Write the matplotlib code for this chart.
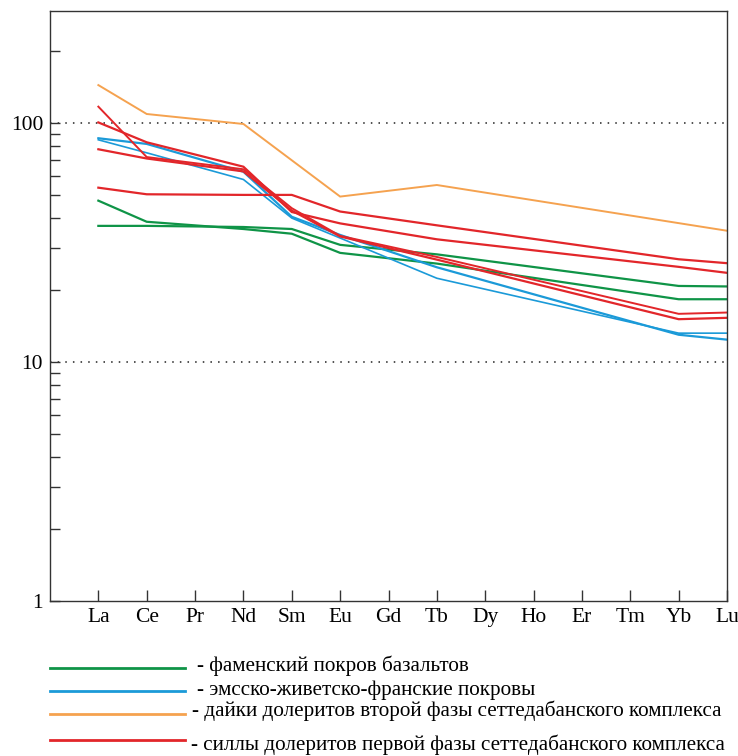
import numpy as np
import matplotlib
matplotlib.use("Agg")
import matplotlib.pyplot as plt
from matplotlib.lines import Line2D
from matplotlib.ticker import LogLocator, FixedLocator, NullFormatter

plt.rcParams['font.family'] = ['Liberation Serif', 'DejaVu Serif']

elements = ['La', 'Ce', 'Pr', 'Nd', 'Sm', 'Eu', 'Gd', 'Tb', 'Dy', 'Ho', 'Er', 'Tm', 'Yb', 'Lu']
nan = np.nan

# хондрит-нормированные содержания (Pr, Gd, Dy, Ho, Er, Tm не определялись)
green_1 = [47.3, 38.6, nan, 36.0, 34.4, 28.6, nan, 25.8, nan, nan, nan, nan, 18.3, 18.3]
green_2 = [37.1, 37.1, nan, 36.7, 36.0, 30.9, nan, 28.2, nan, nan, nan, nan, 20.8, 20.7]
blue_1 = [86.3, 81.7, nan, 62.5, 40.5, 34.0, nan, 24.9, nan, nan, nan, nan, 13.0, 12.4]
blue_2 = [85.0, 75.0, nan, 58.0, 40.0, 33.0, nan, 22.4, nan, nan, nan, nan, 13.2, 13.2]
orange_1 = [144, 109, nan, 99, nan, 49.2, nan, 55, nan, nan, nan, nan, nan, 35.4]
red_1 = [117, 72, nan, 64, 44, 33.7, nan, 27.5, nan, nan, nan, nan, 15.9, 16.1]
red_2 = [100.5, 83, nan, 65.6, 42.4, 38, nan, 32.6, nan, nan, nan, nan, 25.0, 23.6]
red_3 = [77.6, 71, nan, 62.7, 43, 33.5, nan, 26.8, nan, nan, nan, nan, 15.1, 15.3]
red_4 = [53.6, 50.3, nan, 50, 50, 42.6, nan, 37.3, nan, nan, nan, nan, 26.9, 25.9]

legend_labels = ['- фаменский покров базальтов',
                 '- эмсско-живетско-франские покровы',
                 '- дайки долеритов второй фазы сеттедабанского комплекса',
                 '- силлы долеритов первой фазы сеттедабанского комплекса']

c_green = '#0f9447'
c_blue = '#1b9ad8'
c_orange = '#f5a24f'
c_red = '#e2262a'

fig = plt.figure(figsize=(7.38, 7.56), dpi=100)
ax = fig.add_axes([50/738, 155/756, 677/738, 590/756])

x = np.arange(1, len(elements)+1)

def draw(vals, col, lw=1.6):
    v = np.array(vals, dtype=float)
    m = np.isfinite(v)
    ax.plot(x[m], v[m], color=col, lw=lw, solid_joinstyle='miter')

draw(green_1, c_green)
draw(green_2, c_green)
draw(blue_1, c_blue)
draw(blue_2, c_blue, lw=1.2)
draw(orange_1, c_orange, lw=1.4)
draw(red_1, c_red, lw=1.4)
draw(red_2, c_red)
draw(red_3, c_red)
draw(red_4, c_red)

ax.set_yscale('log')
ax.set_ylim(1, 294)
ax.set_xlim(0, 14)

for yv in (10, 100):
    ax.axhline(yv, color='#222222', lw=1.1, ls=(0, (1, 4)), zorder=0)

ax.yaxis.set_major_locator(FixedLocator([1, 10, 100]))
ax.set_yticklabels(['1', '10', '100'])
ax.yaxis.set_minor_locator(LogLocator(base=10, subs=np.arange(2, 10)))
ax.yaxis.set_minor_formatter(NullFormatter())
ax.set_xticks(x)
ax.set_xticklabels(elements)

ax.tick_params(axis='y', which='both', direction='in', length=7, width=1,
               color='#333333', labelsize=15.5, pad=5, right=False)
ax.tick_params(axis='x', which='both', direction='in', length=8, width=1,
               color='#333333', labelsize=15.5, pad=5, top=False)
for s in ax.spines.values():
    s.set_color('#333333')
    s.set_linewidth(1)

# легенда внизу рисунка
leg_cols = [c_green, c_blue, c_orange, c_red]
leg_line_y = [668, 691, 714, 740]
leg_text_y = [666, 690, 711, 745]
leg_text_x = [197, 197, 192, 191]
for col, ly, ty, tx, lab in zip(leg_cols, leg_line_y, leg_text_y, leg_text_x, legend_labels):
    fig.add_artist(Line2D([50/738, 185/738], [1 - ly/756, 1 - ly/756],
                          color=col, lw=2, transform=fig.transFigure))
    fig.text(tx/738, 1 - ty/756, lab, fontsize=15.2, va='center', ha='left')

fig.savefig('out.png', dpi=100)
